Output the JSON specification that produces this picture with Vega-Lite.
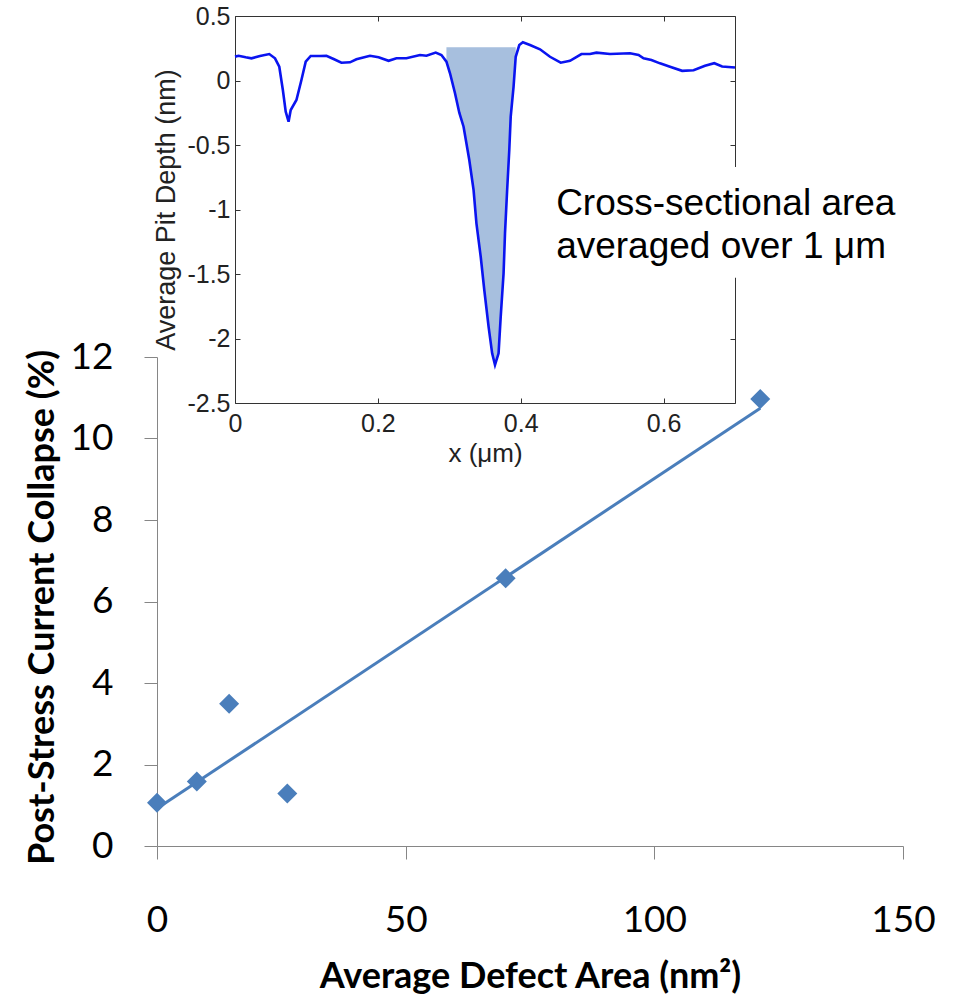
{
  "$schema": "https://vega.github.io/schema/vega-lite/v6.json",
  "width": 746,
  "height": 489,
  "autosize": {"type": "none"},
  "padding": {"left": 157, "top": 357, "right": 54, "bottom": 153},
  "background": "white",
  "config": {
    "view": {"stroke": null},
    "axis": {"grid": false, "labelOverlap": false, "labelFlush": false, "labelBound": false, "titleLimit": 2000}
  },
  "datasets": {
    "defects": [
      {"area": 0, "collapse": 1.06},
      {"area": 8, "collapse": 1.58},
      {"area": 14.5, "collapse": 3.49},
      {"area": 26.2, "collapse": 1.29},
      {"area": 70.1, "collapse": 6.57},
      {"area": 121.3, "collapse": 10.97}
    ],
    "profile": [
      {"x": 0.000, "depth": 0.185},
      {"x": 0.005, "depth": 0.192},
      {"x": 0.015, "depth": 0.180},
      {"x": 0.023, "depth": 0.172},
      {"x": 0.035, "depth": 0.190},
      {"x": 0.048, "depth": 0.205},
      {"x": 0.056, "depth": 0.172},
      {"x": 0.062, "depth": 0.107},
      {"x": 0.067, "depth": -0.074},
      {"x": 0.071, "depth": -0.242},
      {"x": 0.075, "depth": -0.319},
      {"x": 0.078, "depth": -0.229},
      {"x": 0.086, "depth": -0.151},
      {"x": 0.093, "depth": 0.004},
      {"x": 0.099, "depth": 0.146},
      {"x": 0.106, "depth": 0.190},
      {"x": 0.119, "depth": 0.190},
      {"x": 0.128, "depth": 0.192},
      {"x": 0.138, "depth": 0.167},
      {"x": 0.149, "depth": 0.138},
      {"x": 0.161, "depth": 0.141},
      {"x": 0.170, "depth": 0.164},
      {"x": 0.189, "depth": 0.192},
      {"x": 0.201, "depth": 0.180},
      {"x": 0.215, "depth": 0.153},
      {"x": 0.226, "depth": 0.172},
      {"x": 0.240, "depth": 0.172},
      {"x": 0.259, "depth": 0.198},
      {"x": 0.268, "depth": 0.192},
      {"x": 0.281, "depth": 0.216},
      {"x": 0.289, "depth": 0.198},
      {"x": 0.296, "depth": 0.146},
      {"x": 0.301, "depth": 0.056},
      {"x": 0.308, "depth": -0.099},
      {"x": 0.314, "depth": -0.250},
      {"x": 0.320, "depth": -0.358},
      {"x": 0.328, "depth": -0.616},
      {"x": 0.334, "depth": -0.849},
      {"x": 0.338, "depth": -1.107},
      {"x": 0.344, "depth": -1.366},
      {"x": 0.349, "depth": -1.624},
      {"x": 0.355, "depth": -1.908},
      {"x": 0.360, "depth": -2.115},
      {"x": 0.364, "depth": -2.205},
      {"x": 0.369, "depth": -2.115},
      {"x": 0.372, "depth": -1.831},
      {"x": 0.376, "depth": -1.495},
      {"x": 0.378, "depth": -1.185},
      {"x": 0.381, "depth": -0.849},
      {"x": 0.384, "depth": -0.539},
      {"x": 0.386, "depth": -0.280},
      {"x": 0.390, "depth": -0.048},
      {"x": 0.393, "depth": 0.184},
      {"x": 0.398, "depth": 0.275},
      {"x": 0.403, "depth": 0.296},
      {"x": 0.413, "depth": 0.275},
      {"x": 0.427, "depth": 0.242},
      {"x": 0.441, "depth": 0.184},
      {"x": 0.456, "depth": 0.138},
      {"x": 0.469, "depth": 0.153},
      {"x": 0.485, "depth": 0.205},
      {"x": 0.497, "depth": 0.205},
      {"x": 0.506, "depth": 0.216},
      {"x": 0.525, "depth": 0.205},
      {"x": 0.553, "depth": 0.211},
      {"x": 0.565, "depth": 0.198},
      {"x": 0.572, "depth": 0.172},
      {"x": 0.583, "depth": 0.159},
      {"x": 0.595, "depth": 0.133},
      {"x": 0.609, "depth": 0.107},
      {"x": 0.626, "depth": 0.075},
      {"x": 0.642, "depth": 0.080},
      {"x": 0.658, "depth": 0.114},
      {"x": 0.671, "depth": 0.134},
      {"x": 0.682, "depth": 0.109},
      {"x": 0.700, "depth": 0.101}
    ]
  },
  "layer": [
    {
      "data": {"name": "defects"},
      "layer": [
        {
          "transform": [{"regression": "collapse", "on": "area", "method": "linear"}],
          "mark": {"type": "line", "color": "#4a7ebb", "strokeWidth": 3},
          "encoding": {
            "x": {"field": "area", "type": "quantitative"},
            "y": {"field": "collapse", "type": "quantitative"}
          }
        },
        {
          "mark": {"type": "point", "shape": "diamond", "filled": true, "size": 400, "color": "#4a7ebb", "opacity": 1},
          "encoding": {
            "x": {
              "field": "area", "type": "quantitative",
              "scale": {"domain": [0, 150], "nice": false, "zero": false},
              "axis": {
                "orient": "bottom", "values": [0, 50, 100, 150],
                "title": "Average Defect Area (nm²)",
                "domainColor": "#868686", "tickColor": "#868686", "tickSize": 13,
                "labelFont": "Lato", "labelFontSize": 37, "labelColor": "#000", "labelPadding": 43,
                "titleFont": "Lato", "titleFontSize": 36, "titleFontWeight": "bold", "titleColor": "#000",
                "titleY": 141, "titleBaseline": "alphabetic"
              }
            },
            "y": {
              "field": "collapse", "type": "quantitative",
              "scale": {"domain": [0, 12], "nice": false, "zero": false},
              "axis": {
                "orient": "left", "values": [0, 2, 4, 6, 8, 10, 12],
                "title": "Post-Stress Current Collapse (%)",
                "domainColor": "#868686", "tickColor": "#868686", "tickSize": 13,
                "labelFont": "Lato", "labelFontSize": 37, "labelColor": "#000", "labelPadding": 31,
                "titleFont": "Lato", "titleFontSize": 36, "titleFontWeight": "bold", "titleColor": "#000",
                "titleX": -104, "titleY": 250, "titleBaseline": "alphabetic"
              }
            }
          }
        }
      ]
    },
    {
      "data": {"name": "profile"},
      "layer": [
        {
          "transform": [{"filter": "datum.x >= 0.295 && datum.x <= 0.394"}],
          "mark": {"type": "area", "color": "#a7bfde", "opacity": 1},
          "encoding": {
            "x": {"field": "x", "type": "quantitative"},
            "y": {"field": "depth", "type": "quantitative"},
            "y2": {"datum": 0.257}
          }
        },
        {
          "mark": {"type": "line", "color": "#0a14f0", "strokeWidth": 2.6},
          "encoding": {
            "x": {
              "field": "x", "type": "quantitative",
              "scale": {"domain": [0, 0.7], "range": [78, 578], "nice": false, "zero": false},
              "axis": {
                "orient": "bottom", "offset": -443, "values": [0, 0.2, 0.4, 0.6],
                "labelExpr": "toString(datum.value)",
                "title": "x (μm)",
                "domainColor": "#333", "tickColor": "#333", "tickSize": -5,
                "labelFont": "Liberation Sans", "labelFontSize": 25, "labelColor": "#222", "labelPadding": 13,
                "titleFont": "Liberation Sans", "titleFontSize": 26, "titleFontWeight": "normal", "titleColor": "#222",
                "titleY": 58, "titleBaseline": "alphabetic"
              }
            },
            "y": {
              "field": "depth", "type": "quantitative",
              "scale": {"domain": [-2.5, 0.5], "range": [46, -341], "nice": false, "zero": false},
              "axis": {
                "orient": "left", "offset": -78, "values": [-2.5, -2, -1.5, -1, -0.5, 0, 0.5],
                "labelExpr": "toString(datum.value)",
                "title": "Average Pit Depth (nm)",
                "domainColor": "#333", "tickColor": "#333", "tickSize": -5,
                "labelFont": "Liberation Sans", "labelFontSize": 25, "labelColor": "#222", "labelPadding": 10,
                "titleFont": "Liberation Sans", "titleFontSize": 27, "titleFontWeight": "normal", "titleColor": "#222",
                "titleX": -61, "titleBaseline": "alphabetic"
              }
            }
          }
        }
      ]
    },
    {
      "data": {"values": [{}]},
      "layer": [
        {
          "mark": {"type": "rect", "color": "white", "opacity": 1},
          "encoding": {
            "x": {
              "datum": 0.44, "type": "quantitative",
              "scale": {"domain": [0, 0.7], "range": [78, 578], "nice": false, "zero": false},
              "axis": {
                "orient": "top", "offset": 341, "values": [0, 0.2, 0.4, 0.6],
                "labels": false, "title": null,
                "domainColor": "#333", "tickColor": "#333", "tickSize": -5
              }
            },
            "x2": {"datum": 0.95},
            "y": {
              "datum": -0.67, "type": "quantitative",
              "scale": {"domain": [-2.5, 0.5], "range": [46, -341], "nice": false, "zero": false},
              "axis": {
                "orient": "right", "offset": -168, "values": [-2.5, -2, -1.5, -1, -0.5, 0, 0.5],
                "labels": false, "title": null,
                "domainColor": "#333", "tickColor": "#333", "tickSize": -5
              }
            },
            "y2": {"datum": -1.53}
          }
        },
        {
          "mark": {"type": "text", "align": "left", "baseline": "alphabetic", "font": "Liberation Sans", "fontSize": 37, "lineHeight": 43, "color": "#000"},
          "encoding": {
            "x": {"datum": 0.4496, "type": "quantitative"},
            "y": {"datum": -1.043, "type": "quantitative"},
            "text": {"value": ["Cross-sectional area", "averaged over 1 μm"]}
          }
        }
      ]
    }
  ],
  "resolve": {
    "scale": {"x": "independent", "y": "independent"},
    "axis": {"x": "independent", "y": "independent"}
  }
}
